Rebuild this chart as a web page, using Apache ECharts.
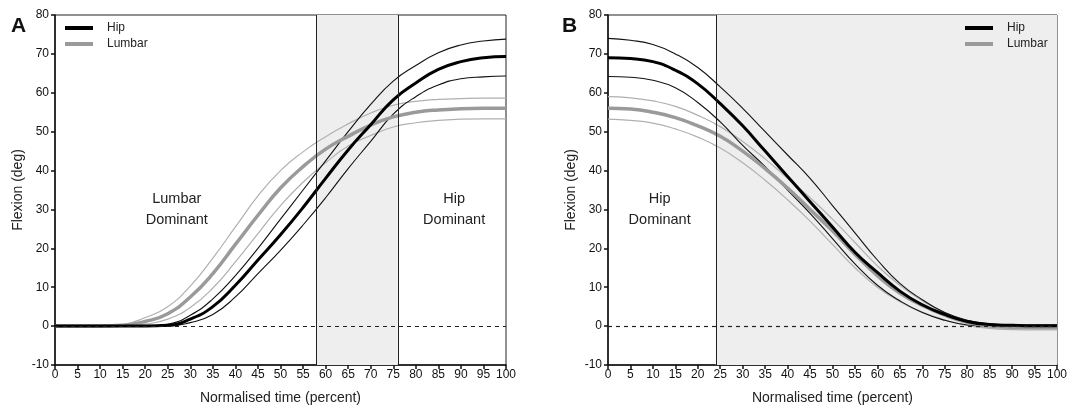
<!DOCTYPE html>
<html>
<head>
<meta charset="utf-8">
<script src="https://cdn.jsdelivr.net/npm/echarts@6/dist/echarts.min.js"></script>
<style>
  html, body { margin: 0; padding: 0; background: #fff; }
  #chart { width: 1070px; height: 410px; }
</style>
</head>
<body>
<div id="chart"></div>
<script>
// normalised time (percent)
const times = [0, 5, 10, 15, 20, 25, 30, 35, 40, 45, 50, 55, 60, 65, 70, 75, 80, 85, 90, 95, 100];

// panel A
const hipA    = [0, 0, 0, 0, 0, 0.2, 1.8, 5, 10.5, 17, 23.5, 30.5, 38, 45.3, 51.8, 58.2, 62.5, 66, 68, 69, 69.3];
const hipAUp  = [0, 0, 0, 0, 0, 0.5, 2.8, 7, 13, 20, 27.5, 35, 42.5, 50, 57, 63, 67, 70.3, 72.3, 73.3, 73.8];
const hipALo  = [0, 0, 0, 0, 0, 0, 0.9, 3, 7.5, 13.5, 19.5, 26, 33, 40.5, 47.5, 54.5, 59, 62, 63.6, 64.1, 64.3];
const lumA    = [0, 0, 0, 0.2, 1.2, 3.2, 7.5, 13.5, 21, 28.5, 35.5, 41, 45.5, 48.8, 51.7, 53.8, 55, 55.6, 55.9, 56, 56];
const lumAUp  = [0, 0, 0, 0.4, 2.2, 5, 10.3, 17.5, 25.5, 33.5, 40, 44.8, 48.7, 52, 54.8, 56.8, 57.8, 58.3, 58.5, 58.6, 58.6];
const lumALo  = [0, 0, 0, 0, 0.5, 1.8, 4.8, 9.8, 16.5, 23.8, 31, 37, 42, 46.3, 49, 51.2, 52.3, 52.9, 53.2, 53.3, 53.3];

// panel B
const hipB    = [69, 68.8, 68, 65.8, 62.3, 57.2, 51.5, 45, 38.5, 32, 25.5, 19, 13.8, 9, 5.5, 3, 1.2, 0.4, 0.2, 0.1, 0.1];
const hipBUp  = [74, 73.5, 72.4, 70, 66.5, 61.5, 56, 50, 44, 38, 31, 24, 17, 11, 6.8, 3.5, 1.5, 0.6, 0.3, 0.3, 0.3];
const hipBLo  = [64.2, 64, 63.2, 61.3, 57.5, 52.5, 46.5, 41, 35, 29, 22.5, 16, 10.5, 6.5, 3.5, 1.5, 0.3, 0, -0.2, -0.2, -0.2];
const lumB    = [56, 55.8, 55, 53.6, 51.5, 48.8, 45, 40.5, 35.5, 30, 24.5, 18.5, 13, 8.5, 5.3, 2.8, 1, 0, -0.3, -0.4, -0.4];
const lumBUp  = [59, 58.7, 57.9, 56.5, 54.2, 51.3, 47.5, 43, 38, 33, 27.5, 21.5, 15.5, 10.5, 6.5, 3.5, 1.5, 0.4, 0, 0, 0];
const lumBLo  = [53.2, 52.9, 52.2, 50.7, 48.6, 45.8, 42, 37.5, 32.5, 27, 21, 15, 10, 6.3, 3.6, 1.6, 0.2, -0.6, -0.9, -1, -1];

// shaded phases and dividers
const shadeA = [58, 76];
const shadeB = [24, 100];
const yTicks = { min: -10, max: 80, interval: 10 };

const font = 'Liberation Sans, Arial, sans-serif';

function pairs(ys) {
  return times.map((x, i) => [x, ys[i]]);
}

function line(name, ys, idx, color, width) {
  return {
    name: name,
    type: 'line',
    xAxisIndex: idx,
    yAxisIndex: idx,
    data: pairs(ys),
    smooth: true,
    showSymbol: false,
    silent: true,
    color: color,
    lineStyle: { color: color, width: width },
    z: width > 2 ? 4 : 3
  };
}

function xAxis(idx) {
  return {
    type: 'value', gridIndex: idx, min: 0, max: 100, interval: 5,
    name: 'Normalised time (percent)', nameLocation: 'middle', nameGap: 26,
    nameTextStyle: { fontFamily: font, fontSize: 14, color: '#222' },
    axisLine: { show: true, onZero: false, lineStyle: { color: '#111', width: 1.5 } },
    axisTick: { show: true, length: 4, lineStyle: { color: '#111', width: 1.5 } },
    axisLabel: { fontFamily: font, fontSize: 12, color: '#111', margin: 4 },
    splitLine: { show: false }
  };
}

function yAxis(idx) {
  return {
    type: 'value', gridIndex: idx, min: yTicks.min, max: yTicks.max, interval: yTicks.interval,
    name: 'Flexion (deg)', nameLocation: 'middle', nameGap: 30, nameRotate: 90,
    nameTextStyle: { fontFamily: font, fontSize: 14, color: '#222' },
    axisLine: { show: true, lineStyle: { color: '#111', width: 1.5 } },
    axisTick: { show: true, length: 4, lineStyle: { color: '#111', width: 1.5 } },
    axisLabel: { fontFamily: font, fontSize: 12, color: '#111', margin: 6 },
    splitLine: { show: false }
  };
}

function panel(idx, hip, hipUp, hipLo, lum, lumUp, lumLo, shade, dividers, labels) {
  const lumMean = line('Lumbar', lum, idx, '#9a9a9a', 3.5);
  lumMean.markArea = {
    silent: true,
    itemStyle: { color: '#eeeeee' },
    data: [[{ xAxis: shade[0] }, { xAxis: shade[1] }]]
  };
  lumMean.markLine = {
    silent: true, symbol: 'none', label: { show: false },
    lineStyle: { color: '#222', width: 1, type: 'solid' },
    data: dividers.map(d => ({ xAxis: d }))
  };
  const hipMean = line('Hip', hip, idx, '#000', 3);
  hipMean.markLine = {
    silent: true, symbol: 'none', label: { show: false },
    lineStyle: { color: '#222', width: 1.2, type: [4, 4] },
    data: [{ yAxis: 0 }]
  };
  hipMean.markPoint = {
    silent: true, symbol: 'circle', symbolSize: 1,
    itemStyle: { color: 'rgba(0,0,0,0)' },
    label: {
      show: true, position: 'inside', formatter: '{b}',
      fontFamily: font, fontSize: 14.5, lineHeight: 21, color: '#222', align: 'center'
    },
    data: labels.map(l => ({ name: l.text, coord: l.at }))
  };
  return [
    line('Lumbar upper', lumUp, idx, '#b0b0b0', 1.2),
    line('Lumbar lower', lumLo, idx, '#b0b0b0', 1.2),
    lumMean,
    line('Hip upper', hipUp, idx, '#111', 1.1),
    line('Hip lower', hipLo, idx, '#111', 1.1),
    hipMean
  ];
}

function legend(left) {
  return {
    data: [{ name: 'Hip', icon: 'rect' }, { name: 'Lumbar', icon: 'rect' }],
    orient: 'vertical', left: left, top: 22, padding: 0,
    itemWidth: 28, itemHeight: 4, itemGap: 4, selectedMode: false,
    textStyle: { fontFamily: font, fontSize: 12, color: '#222', padding: [0, 0, 0, 9] }
  };
}

const chart = echarts.init(document.getElementById('chart'), null, { renderer: 'canvas' });

const option = {
  animation: false,
  backgroundColor: '#fff',
  grid: [
    { left: 55, top: 15, width: 451, height: 353, show: true, borderColor: '#222', borderWidth: 1, backgroundColor: 'transparent' },
    { left: 608, top: 15, width: 451, height: 353, show: true, borderColor: '#222', borderWidth: 1, backgroundColor: 'transparent' }
  ],
  xAxis: [xAxis(0), xAxis(1)],
  yAxis: [yAxis(0), yAxis(1)],
  legend: [legend(65), legend(965)],
  graphic: [
    { type: 'text', left: 11, top: 16, style: { text: 'A', fontFamily: font, fontSize: 21, fontWeight: 'bold', fill: '#111' } },
    { type: 'text', left: 562, top: 16, style: { text: 'B', fontFamily: font, fontSize: 21, fontWeight: 'bold', fill: '#111' } }
  ],
  series: [].concat(
    panel(0, hipA, hipAUp, hipALo, lumA, lumAUp, lumALo, shadeA, shadeA,
      [{ text: 'Lumbar\nDominant', at: [27, 30] }, { text: 'Hip\nDominant', at: [88.5, 30] }]),
    panel(1, hipB, hipBUp, hipBLo, lumB, lumBUp, lumBLo, shadeB, [shadeB[0]],
      [{ text: 'Hip\nDominant', at: [11.5, 30] }])
  )
};

chart.setOption(option);
</script>
</body>
</html>
